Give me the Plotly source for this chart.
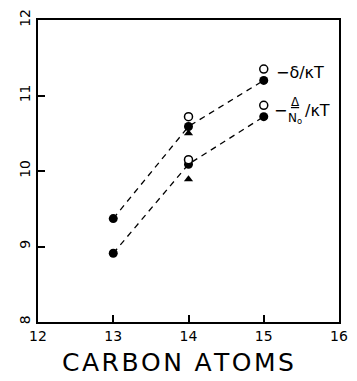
import plotly.graph_objects as go

# Data
carbon = [13, 14, 15]
delta_filled = [9.37, 10.59, 11.20]
Delta_filled = [8.91, 10.09, 10.72]
open_x = [14, 15, 14, 15]
open_y = [10.72, 11.35, 10.15, 10.87]
tri_x = [14, 14]
tri_y = [10.50, 9.89]
x_ticks = [12, 13, 14, 15, 16]
y_ticks = [8, 9, 10, 11, 12]

FONT = "DejaVu Sans"
fig = go.Figure()
for ys in (delta_filled, Delta_filled):
    fig.add_trace(go.Scatter(x=carbon, y=ys, mode="lines+markers",
                             line=dict(color="black", width=1.3, dash="6px,5px"),
                             marker=dict(color="black", size=9, symbol="circle")))
fig.add_trace(go.Scatter(x=open_x, y=open_y, mode="markers",
                         marker=dict(color="white", size=8, symbol="circle",
                                     line=dict(color="black", width=1.5))))
fig.add_trace(go.Scatter(x=tri_x, y=tri_y, mode="markers",
                         marker=dict(color="black", size=8, symbol="triangle-up")))

fig.add_annotation(x=15, y=11.30, xref="x", yref="y", xshift=10, xanchor="left",
                   text="−δ/κT", showarrow=False, font=dict(family=FONT, size=16, color="black"))
fig.add_annotation(x=15, y=10.80, xref="x", yref="y", xshift=9, xanchor="left", borderpad=0,
                   text="−", showarrow=False, font=dict(family=FONT, size=16, color="black"))
fig.add_annotation(x=15, y=10.80, xref="x", yref="y", xshift=23, xanchor="left", borderpad=0,
                   text="<u>Δ</u><br>N<sub>o</sub>", showarrow=False, align="center",
                   font=dict(family=FONT, size=12, color="black"))
fig.add_annotation(x=15, y=10.80, xref="x", yref="y", xshift=40, xanchor="left", borderpad=0,
                   text="/κT", showarrow=False, font=dict(family=FONT, size=16, color="black"))

fig.add_annotation(x=0.465, y=-0.134, xref="paper", yref="paper", yanchor="middle",
                   text="C\u200aA\u200aR\u200aB\u200aO\u200aN\u2002A\u200aT\u200aO\u200aM\u200aS",
                   showarrow=False, font=dict(family=FONT, size=25, color="black"))

axis_common = dict(showline=True, linecolor="black", linewidth=2, mirror=True,
                   ticks="inside", ticklen=7, tickwidth=1.5, tickcolor="black",
                   showgrid=False, zeroline=False,
                   tickfont=dict(family=FONT, size=14, color="black"))
fig.update_xaxes(range=[12, 16], tickvals=x_ticks, **axis_common)
fig.update_yaxes(range=[8, 12], tickvals=y_ticks, tickangle=-90, **axis_common)

fig.update_layout(width=357, height=381, margin=dict(l=38, r=9, t=15, b=59),
                  plot_bgcolor="white", paper_bgcolor="white", showlegend=False)
fig.write_html("out.html")
